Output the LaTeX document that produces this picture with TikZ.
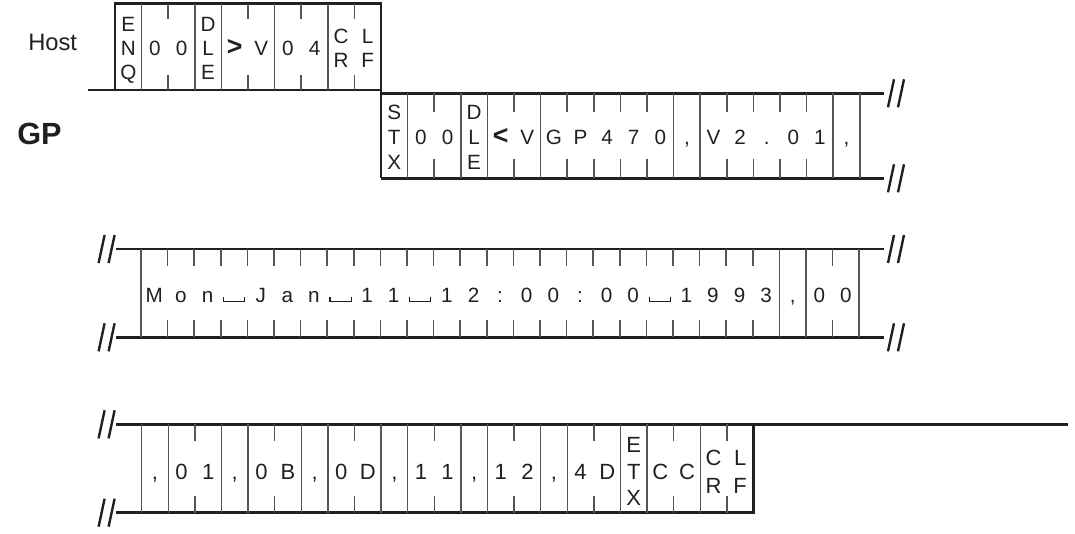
\documentclass[tikz,border=0pt]{standalone}
\usepackage{fontspec}
\setmainfont{Liberation Sans}
\definecolor{ink}{HTML}{231F20}
\definecolor{sep}{HTML}{555555}
\newlength\sIII
\newlength\sII
\newcommand\stkIII[3]{\makebox[0pt]{\raisebox{\sIII}{#1}}\makebox[0pt]{#2}\makebox[0pt]{\raisebox{-\sIII}{#3}}}
\newcommand\stkII[2]{\makebox[0pt]{\raisebox{\sII}{#1}}\makebox[0pt]{\raisebox{-\sII}{#2}}}
\newcommand\vsp{\rule{0.8pt}{4pt}\rule{15pt}{0.8pt}\rule{0.8pt}{4pt}}
\newcommand\bigsym[1]{{\fontsize{20}{20}\selectfont\bfseries #1}}
% #1 prefix, #2 x0, #3 ytop, #4 ybot, #5 tick length, #6 baseline y, #7 list label/type
\newcommand\cellrow[7]{%
  \foreach[count=\i] \lab/\typ in {#7}{%
    \pgfmathsetmacro\xc{#2+(\i-0.5)*26.6}%
    \pgfmathsetmacro\xr{#2+\i*26.6}%
    \node[cell] (#1\i) at (\xc,#6) {\lab};%
    \if f\typ \draw[sepline] (\xr,#3) -- (\xr,#4);\fi
    \if t\typ \draw[sepline] (\xr,#3) -- (\xr,{#3+#5}) (\xr,#4) -- (\xr,{#4-#5});\fi
  }}
\newcommand\brkmark[2]{\draw[brk] ({#1-8},{#2+14}) -- ({#1-2},{#2-14}) ({#1+2},{#2+14}) -- ({#1+8},{#2-14});}
\begin{document}
\begin{tikzpicture}[x=0.75pt,y=-0.75pt,
  frame/.style={line width=2pt,draw=ink},
  sepline/.style={line width=1.1pt,draw=sep},
  cell/.style={inner sep=0pt,font=\fontsize{15.5}{18}\selectfont,text=ink,anchor=base},
  brk/.style={line width=1.8pt,draw=ink},
  lbl/.style={inner sep=0pt,text=ink,anchor=base west}]
\useasboundingbox (0,0) rectangle (1075,533);

% labels
\node[lbl,font=\fontsize{17.8}{20}\selectfont] (host) at (28,50.5) {Host};
\node[lbl,font=\fontsize{23}{26}\selectfont\bfseries] (gp) at (17,144) {GP};

% row 1 (Host)
\draw[frame] (88,90) -- (381,90);
\draw[frame] (115,90) -- (115,3.5) -- (381,3.5) -- (381,178.3);
\setlength\sIII{18pt}\setlength\sII{9pt}
\cellrow{a}{115}{3.5}{90}{15}{55}{\stkIII{E}{N}{Q}/f, 0/t, 0/f, \stkIII{D}{L}{E}/f, \bigsym{>}/t, V/f, 0/t, 4/f, \stkII{C}{R}/t, \stkII{L}{F}/e}

% row 2 (GP)
\draw[frame] (381,93.3) -- (884,93.3);
\draw[frame] (381,178.3) -- (884,178.3);
\setlength\sIII{19pt}
\cellrow{b}{381}{93.3}{178.3}{19}{144.5}{\stkIII{S}{T}{X}/f, 0/t, 0/f, \stkIII{D}{L}{E}/f, \bigsym{<}/t, V/f, G/t, P/t, 4/t, 7/t, 0/f, {,}/f, V/t, 2/t, ./t, 0/t, 1/f, {,}/f}
\brkmark{896}{93.3}
\brkmark{896}{178.3}

% row 3
\draw[frame] (116,249) -- (884,249);
\draw[frame] (116,337.3) -- (884,337.3);
\draw[sepline] (141,249) -- (141,337.3);
\cellrow{c}{141}{249}{337.3}{17}{302}{M/t, o/t, n/t, \vsp/t, J/t, a/t, n/t, \vsp/t, 1/t, 1/t, \vsp/t, 1/t, 2/t, :/t, 0/t, 0/t, :/t, 0/t, 0/t, \vsp/t, 1/t, 9/t, 9/t, 3/f, {,}/f, 0/t, 0/f}
\brkmark{106.6}{249}
\brkmark{106.6}{337.3}
\brkmark{896}{249}
\brkmark{896}{337.3}

% row 4
\draw[frame] (116,424.3) -- (1068,424.3);
\draw[frame] (116,512.7) -- (753.5,512.7) -- (753.5,424.3);
\draw[sepline] (141.7,424.3) -- (141.7,512.7);
\setlength\sIII{20pt}\setlength\sII{10.5pt}
\begin{scope}[cell/.append style={font=\fontsize{16.5}{19}\selectfont}]
\cellrow{d}{141.7}{424.3}{512.7}{17}{479}{{,}/f, 0/t, 1/f, {,}/f, 0/t, B/f, {,}/f, 0/t, D/f, {,}/f, 1/t, 1/f, {,}/f, 1/t, 2/f, {,}/f, 4/t, D/f, \stkIII{E}{T}{X}/f, C/t, C/f, \stkII{C}{R}/t, \stkII{L}{F}/e}
\end{scope}
\brkmark{106.6}{424.3}
\brkmark{106.6}{512.7}
\end{tikzpicture}
\end{document}
